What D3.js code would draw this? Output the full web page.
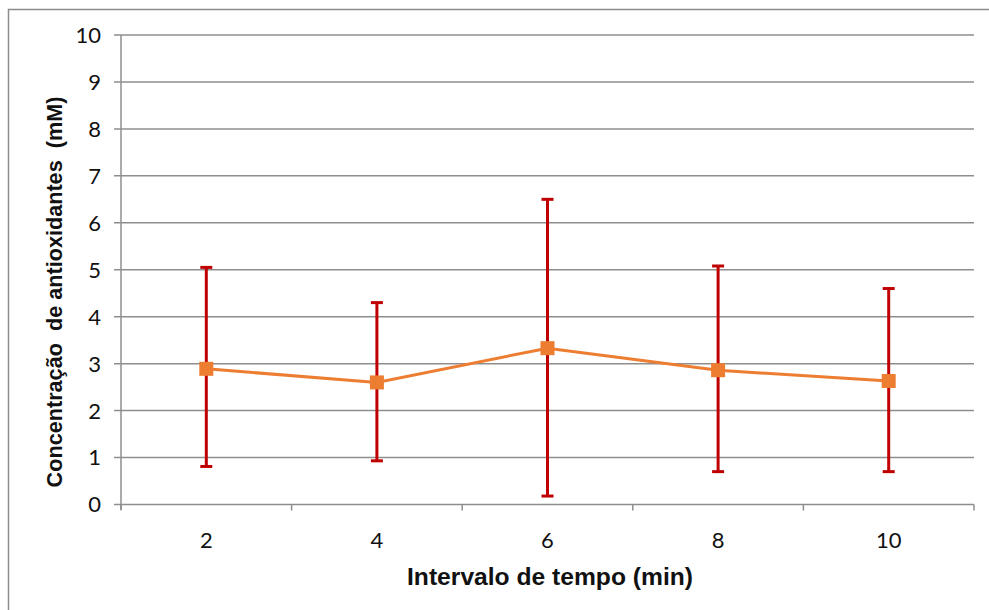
<!DOCTYPE html>
<html>
<head>
<meta charset="utf-8">
<script src="https://cdn.jsdelivr.net/npm/d3@7"></script>
<style>
  body { margin: 0; background: #fff; }
  svg { display: block; }
</style>
</head>
<body>
<div id="chart"></div>
<script>
// dados - data
var categories = ['2', '4', '6', '8', '10'];
var means = [2.89, 2.60, 3.33, 2.86, 2.63];
var upper = [5.05, 4.30, 6.50, 5.08, 4.60];
var lower = [0.81, 0.93, 0.18, 0.70, 0.70];
var yTicks = [0, 1, 2, 3, 4, 5, 6, 7, 8, 9, 10];

var width = 989, height = 610;
var margin = {left: 121, right: 15, top: 35, bottom: 106};

var svg = d3.select('#chart')
  .append('svg')
  .attr('width', width)
  .attr('height', height);

// moldura - outer frame (runs off the right/bottom edges)
svg.append('rect')
  .attr('x', 8.5).attr('y', 9.5)
  .attr('width', 1000).attr('height', 700)
  .attr('fill', 'none')
  .attr('stroke', '#8c8c8c')
  .attr('stroke-width', 1.5);

var x = d3.scaleBand()
  .domain(categories)
  .range([margin.left, width - margin.right]);

var y = d3.scaleLinear()
  .domain([0, 10])
  .range([height - margin.bottom + 0.5, margin.top]);

// linhas de grade - gridlines
svg.append('g')
  .selectAll('line')
  .data(yTicks)
  .enter()
  .append('line')
  .attr('x1', margin.left - 7)
  .attr('x2', width - margin.right)
  .attr('y1', function(d) { return y(d); })
  .attr('y2', function(d) { return y(d); })
  .attr('stroke', '#8e8e8e')
  .attr('stroke-width', 1.5);

// eixo y
svg.append('line')
  .attr('x1', margin.left).attr('x2', margin.left)
  .attr('y1', y(10)).attr('y2', y(0) + 5)
  .attr('stroke', '#8e8e8e')
  .attr('stroke-width', 1.5);

svg.append('g')
  .selectAll('text')
  .data(yTicks)
  .enter()
  .append('text')
  .text(function(d) { return d; })
  .attr('x', 101)
  .attr('y', function(d) { return y(d); })
  .attr('dy', '0.36em')
  .attr('text-anchor', 'end')
  .attr('font-family', 'Lato, "Open Sans", sans-serif')
  .attr('font-size', '22px')
  .attr('fill', '#111');

// eixo x - ticks at category boundaries
var bounds = categories.map(function(c) { return x(c); }).concat([x.range()[1]]);
svg.append('g')
  .selectAll('line')
  .data(bounds)
  .enter()
  .append('line')
  .attr('x1', function(d) { return d; })
  .attr('x2', function(d) { return d; })
  .attr('y1', y(0))
  .attr('y2', y(0) + 6)
  .attr('stroke', '#8e8e8e')
  .attr('stroke-width', 1.5);

svg.append('g')
  .selectAll('text')
  .data(categories)
  .enter()
  .append('text')
  .text(function(d) { return d; })
  .attr('x', function(d) { return x(d) + x.bandwidth() / 2; })
  .attr('y', 540)
  .attr('dy', '0.36em')
  .attr('text-anchor', 'middle')
  .attr('font-family', 'Lato, "Open Sans", sans-serif')
  .attr('font-size', '22px')
  .attr('fill', '#111');

// barras de erro - error bars
var cx = function(i) { return x(categories[i]) + x.bandwidth() / 2; };
var eb = svg.append('g');
categories.forEach(function(c, i) {
  eb.append('line')
    .attr('x1', cx(i)).attr('x2', cx(i))
    .attr('y1', y(upper[i])).attr('y2', y(lower[i]))
    .attr('stroke', '#c00000').attr('stroke-width', 3);
  [upper[i], lower[i]].forEach(function(v) {
    eb.append('line')
      .attr('x1', cx(i) - 6).attr('x2', cx(i) + 6)
      .attr('y1', y(v)).attr('y2', y(v))
      .attr('stroke', '#c00000').attr('stroke-width', 3);
  });
});

// linha - series line
var line = d3.line()
  .x(function(d, i) { return cx(i); })
  .y(function(d) { return y(d); });

svg.append('path')
  .datum(means)
  .attr('d', line)
  .attr('fill', 'none')
  .attr('stroke', '#ed7d31')
  .attr('stroke-width', 3);

svg.append('g')
  .selectAll('rect')
  .data(means)
  .enter()
  .append('rect')
  .attr('x', function(d, i) { return cx(i) - 7; })
  .attr('y', function(d) { return y(d) - 7; })
  .attr('width', 14)
  .attr('height', 14)
  .attr('fill', '#ed7d31');

// titulos dos eixos - axis titles, font size fitted to the measured width
function fitText(sel, target) {
  var w = sel.node().getComputedTextLength();
  sel.attr('font-size', (20 * target / w).toFixed(2) + 'px');
}

var xt = svg.append('text')
  .text('Intervalo de tempo (min)')
  .attr('x', 550)
  .attr('y', 585)
  .attr('text-anchor', 'middle')
  .attr('font-family', '"Liberation Sans", Arial, sans-serif')
  .attr('font-weight', 'bold')
  .attr('font-size', '20px')
  .attr('fill', '#111');
fitText(xt, 286);

var yt = svg.append('text')
  .text('Concentração  de antioxidantes  (mM)')
  .attr('transform', 'translate(62,292) rotate(-90)')
  .attr('text-anchor', 'middle')
  .attr('font-family', '"Liberation Sans", Arial, sans-serif')
  .attr('font-weight', 'bold')
  .attr('font-size', '20px')
  .style('white-space', 'pre')
  .attr('fill', '#111');
fitText(yt, 391);
</script>
</body>
</html>
